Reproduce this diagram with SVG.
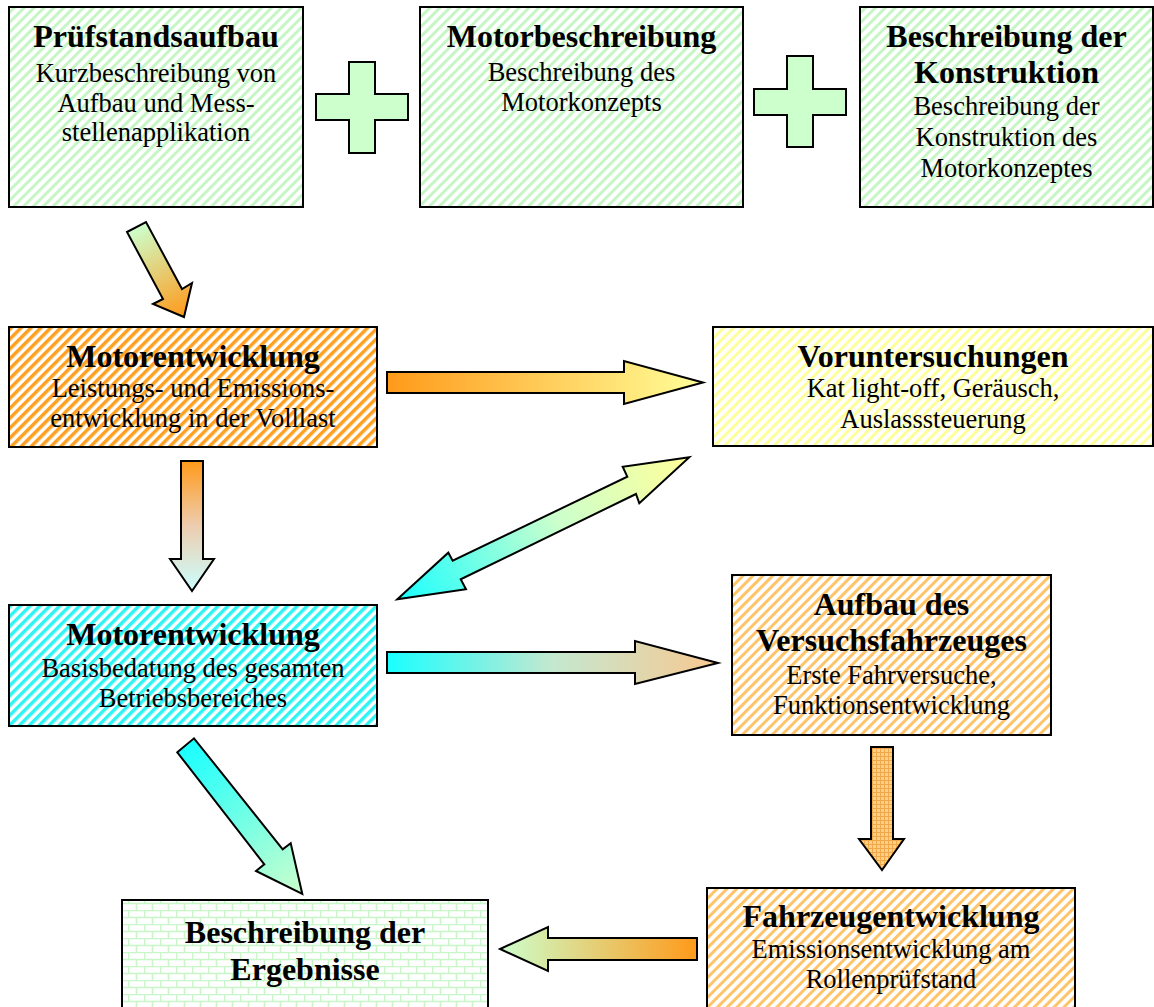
<svg xmlns="http://www.w3.org/2000/svg" width="1154" height="1007" viewBox="0 0 1154 1007">
<style>
.box{stroke:#000;stroke-width:2}
.t{font-family:"Liberation Serif","Times New Roman",serif;font-weight:bold;font-size:32px;text-anchor:middle;fill:#000}
.s{font-family:"Liberation Serif","Times New Roman",serif;font-size:26.5px;text-anchor:middle;fill:#000}
.arr{stroke:#000;stroke-width:2;stroke-linejoin:miter}
</style>
<defs>
<pattern id="pGreen" patternUnits="userSpaceOnUse" width="7" height="7" patternTransform="rotate(45)"><rect width="7" height="7" fill="#fff"/><rect width="3" height="7" fill="#c6f6c6"/></pattern>
<pattern id="pOrange" patternUnits="userSpaceOnUse" width="7" height="7" patternTransform="rotate(45)"><rect width="7" height="7" fill="#fff"/><rect width="3.5" height="7" fill="#ffa020"/></pattern>
<pattern id="pCyan" patternUnits="userSpaceOnUse" width="7" height="7" patternTransform="rotate(45)"><rect width="7" height="7" fill="#fff"/><rect width="3.5" height="7" fill="#2ef4f4"/></pattern>
<pattern id="pYellow" patternUnits="userSpaceOnUse" width="7" height="7" patternTransform="rotate(45)"><rect width="7" height="7" fill="#fff"/><rect width="3" height="7" fill="#ffff99"/></pattern>
<pattern id="pLOrange" patternUnits="userSpaceOnUse" width="7" height="7" patternTransform="rotate(45)"><rect width="7" height="7" fill="#fff"/><rect width="3" height="7" fill="#ffc46a"/></pattern>
<pattern id="pBrick" patternUnits="userSpaceOnUse" width="16" height="14"><rect width="16" height="14" fill="#fff"/><path d="M0 0.5H16M0 7.5H16M0.5 0V7M8.5 7V14" stroke="#c8f6c8" stroke-width="1.6" fill="none"/></pattern>
<pattern id="pGrid" patternUnits="userSpaceOnUse" width="4" height="4"><rect width="4" height="4" fill="#ffcf85"/><path d="M0 0.5H4M0.5 0V4" stroke="#f2a848" stroke-width="1"/></pattern>
<linearGradient id="gA1" gradientUnits="userSpaceOnUse" x1="136" y1="227" x2="184" y2="317"><stop offset="0" stop-color="#ccffcc"/><stop offset="1" stop-color="#ff9a1a"/></linearGradient>
<linearGradient id="gA2" gradientUnits="userSpaceOnUse" x1="387" y1="0" x2="703" y2="0"><stop offset="0" stop-color="#ff9a1a"/><stop offset="1" stop-color="#ffff99"/></linearGradient>
<linearGradient id="gA3" gradientUnits="userSpaceOnUse" x1="0" y1="461" x2="0" y2="591"><stop offset="0" stop-color="#ff9a1a"/><stop offset="0.5" stop-color="#edcdb0"/><stop offset="1" stop-color="#ccffff"/></linearGradient>
<linearGradient id="gA4" gradientUnits="userSpaceOnUse" x1="397" y1="599" x2="689" y2="457"><stop offset="0" stop-color="#19ffff"/><stop offset="0.55" stop-color="#ccffcc"/><stop offset="1" stop-color="#ffff99"/></linearGradient>
<linearGradient id="gA5" gradientUnits="userSpaceOnUse" x1="387" y1="0" x2="718" y2="0"><stop offset="0" stop-color="#19ffff"/><stop offset="0.5" stop-color="#c4e8d0"/><stop offset="1" stop-color="#f8c890"/></linearGradient>
<linearGradient id="gA6" gradientUnits="userSpaceOnUse" x1="185" y1="745" x2="302" y2="894"><stop offset="0" stop-color="#19ffff"/><stop offset="1" stop-color="#ccffcc"/></linearGradient>
<linearGradient id="gA7" gradientUnits="userSpaceOnUse" x1="697" y1="0" x2="500" y2="0"><stop offset="0" stop-color="#ff9a1a"/><stop offset="1" stop-color="#ccffcc"/></linearGradient>
</defs>

<g id="connectors">
<path id="plus1" class="arr" fill="#ccffcc" d="M349 62H375V94H408V120H375V153H349V120H316V94H349Z"/>
<path id="plus2" class="arr" fill="#ccffcc" d="M787 56H813V89H846V115H813V147H787V115H754V89H787Z"/>
<polygon class="arr" fill="url(#gA1)" points="127,232 146,222 182,289 192,283 184,317 153,304 163,299"/>
<polygon class="arr" fill="url(#gA2)" points="387,372 624,372 624,361 703,382.5 624,404 624,393 387,393"/>
<polygon class="arr" fill="url(#gA3)" points="181,461 203,461 203,559 214,559 192,591 170,559 181,559"/>
<polygon class="arr" fill="url(#gA4)" points="689.3,457.3 622.7,466.7 627.3,476.7 452.7,560.7 448.3,552.7 397.3,599.3 466,589.3 460.7,579.3 636,494 639.3,503.3"/>
<polygon class="arr" fill="url(#gA5)" points="387,652 635,652 635,641 718,663 635,684 635,673 387,673"/>
<polygon class="arr" fill="url(#pGrid)" points="871,747 893,747 893,839 904,839 882,870 859,839 871,839"/>
<polygon class="arr" fill="url(#gA6)" points="177.3,752.3 194,738.3 282.7,849.3 290.7,843.3 302.3,894 256,871 264.3,864.3"/>
<polygon class="arr" fill="url(#gA7)" points="697,938 548,938 548,927 500,949 548,971 548,960 697,960"/>
</g>

<g id="node-pruefstand">
<rect class="box" x="9" y="7" width="294" height="200" fill="url(#pGreen)"/>
<text class="t" x="156" y="47">Prüfstandsaufbau</text>
<text class="s" x="156" y="82">Kurzbeschreibung von</text>
<text class="s" x="156" y="112">Aufbau und Mess-</text>
<text class="s" x="156" y="141">stellenapplikation</text>
</g>

<g id="node-motorbeschreibung">
<rect class="box" x="420" y="7" width="323" height="200" fill="url(#pGreen)"/>
<text class="t" x="581.5" y="47">Motorbeschreibung</text>
<text class="s" x="581.5" y="81">Beschreibung des</text>
<text class="s" x="581.5" y="111">Motorkonzepts</text>
</g>

<g id="node-konstruktion">
<rect class="box" x="860" y="7" width="293" height="200" fill="url(#pGreen)"/>
<text class="t" x="1006.5" y="47">Beschreibung der</text>
<text class="t" x="1006.5" y="83">Konstruktion</text>
<text class="s" x="1006.5" y="115">Beschreibung der</text>
<text class="s" x="1006.5" y="146">Konstruktion des</text>
<text class="s" x="1006.5" y="177">Motorkonzeptes</text>
</g>

<g id="node-motorentwicklung-1">
<rect class="box" x="9" y="327" width="368" height="120" fill="url(#pOrange)"/>
<text class="t" x="193" y="367">Motorentwicklung</text>
<text class="s" x="193" y="397">Leistungs- und Emissions-</text>
<text class="s" x="193" y="427">entwicklung in der Volllast</text>
</g>

<g id="node-voruntersuchungen">
<rect class="box" x="713" y="327" width="440" height="119" fill="url(#pYellow)"/>
<text class="t" x="933" y="367">Voruntersuchungen</text>
<text class="s" x="933" y="397">Kat light-off, Geräusch,</text>
<text class="s" x="933" y="428">Auslasssteuerung</text>
</g>

<g id="node-motorentwicklung-2">
<rect class="box" x="9" y="605" width="368" height="121" fill="url(#pCyan)"/>
<text class="t" x="193" y="645">Motorentwicklung</text>
<text class="s" x="193" y="677">Basisbedatung des gesamten</text>
<text class="s" x="193" y="707">Betriebsbereiches</text>
</g>

<g id="node-aufbau">
<rect class="box" x="732" y="575" width="319" height="160" fill="url(#pLOrange)"/>
<text class="t" x="891.5" y="615">Aufbau des</text>
<text class="t" x="891.5" y="651">Versuchsfahrzeuges</text>
<text class="s" x="891.5" y="684">Erste Fahrversuche,</text>
<text class="s" x="891.5" y="714">Funktionsentwicklung</text>
</g>

<g id="node-fahrzeugentwicklung">
<rect class="box" x="707" y="888" width="368" height="125" fill="url(#pLOrange)"/>
<text class="t" x="891" y="927">Fahrzeugentwicklung</text>
<text class="s" x="891" y="958">Emissionsentwicklung am</text>
<text class="s" x="891" y="988">Rollenprüfstand</text>
</g>

<g id="node-ergebnisse">
<rect class="box" x="122" y="900" width="366" height="113" fill="url(#pBrick)"/>
<text class="t" x="305" y="943">Beschreibung der</text>
<text class="t" x="305" y="980">Ergebnisse</text>
</g>
</svg>
